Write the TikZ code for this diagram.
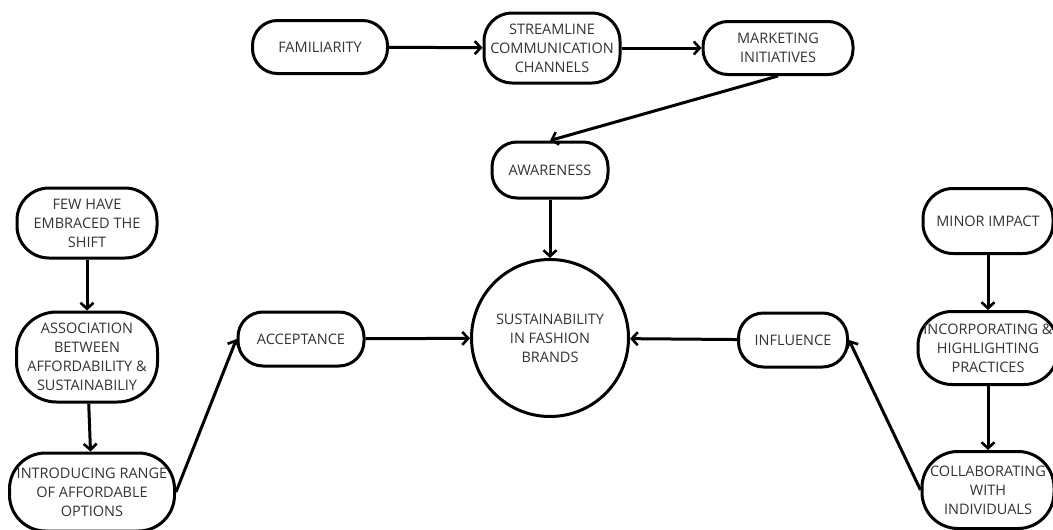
\documentclass[tikz,border=0pt]{standalone}
\usepackage{fontspec}
\setmainfont{Open Sans}
\usetikzlibrary{positioning, calc, arrows.meta}

\definecolor{labelgray}{HTML}{333333}

\begin{document}
\begin{tikzpicture}[x=1pt, y=-1pt,
    >={Straight Barb[length=6pt, width=13pt, line width=2.6pt]},
    box/.style={draw, line width=3pt, rounded corners=25pt, align=center,
        text=labelgray, inner sep=1pt, font=\fontsize{14.5}{19}\selectfont},
    hub/.style={draw, circle, line width=3pt, align=center,
        text=labelgray, inner sep=1pt, font=\fontsize{14.5}{19}\selectfont},
    link/.style={->, line width=3pt}]
    \useasboundingbox (0,0) rectangle (1053,530);

    % Top row
    \node[box, minimum width=135pt, minimum height=53pt] (fam) at (320,47) {FAMILIARITY};
    \node[box, minimum width=136pt, minimum height=70pt, rounded corners=28pt] (stream) at (552,48) {STREAMLINE\\COMMUNICATION\\CHANNELS};
    \node[box, minimum width=150pt, minimum height=53pt] (mkt) at (778,48) {MARKETING\\INITIATIVES};
    \node[box, minimum width=116pt, minimum height=56pt] (aware) at (550,170) {AWARENESS};

    % Centre
    \node[hub, minimum size=157pt] (core) at (550,338) {SUSTAINABILITY\\IN FASHION\\BRANDS};

    % Left column
    \node[box, minimum width=140pt, minimum height=70pt, rounded corners=32pt] (few) at (87,223) {FEW HAVE\\EMBRACED THE\\SHIFT};
    \node[box, minimum width=141pt, minimum height=90pt, rounded corners=40pt] (assoc) at (87,357) {ASSOCIATION\\BETWEEN\\AFFORDABILITY \&\\SUSTAINABILIY};
    \node[box, minimum width=165pt, minimum height=78pt, rounded corners=36pt] (intro) at (92,492) {INTRODUCING RANGE\\OF AFFORDABLE\\OPTIONS};
    \node[box, minimum width=126pt, minimum height=54pt] (accept) at (301,339) {ACCEPTANCE};

    % Right column
    \node[box, minimum width=109pt, minimum height=54pt] (infl) at (793,340) {INFLUENCE};
    \node[box, minimum width=130pt, minimum height=65pt, rounded corners=30pt] (minor) at (988,221) {MINOR IMPACT};
    \node[box, minimum width=140pt, minimum height=73pt, rounded corners=34pt] (incorp) at (988,348) {INCORPORATING \&\\HIGHLIGHTING\\PRACTICES};
    \node[box, minimum width=132pt, minimum height=77pt, rounded corners=36pt] (collab) at (988,490) {COLLABORATING\\WITH\\INDIVIDUALS};

    % Connectors
    \draw[link] (fam) -- (stream);
    \draw[link] (stream) -- (mkt);
    \draw[link] (mkt.south) -- (aware.north);
    \draw[link] (aware) -- (core);
    \draw[link] (few) -- (assoc);
    \draw[link] (assoc) -- (intro);
    \draw[link] (intro.east) -- (accept.west);
    \draw[link] (accept) -- (core);
    \draw[link] (infl) -- (core);
    \draw[link] (minor) -- (incorp);
    \draw[link] (incorp) -- (collab);
    \draw[link] (collab.west) -- (infl.east);
\end{tikzpicture}
\end{document}
